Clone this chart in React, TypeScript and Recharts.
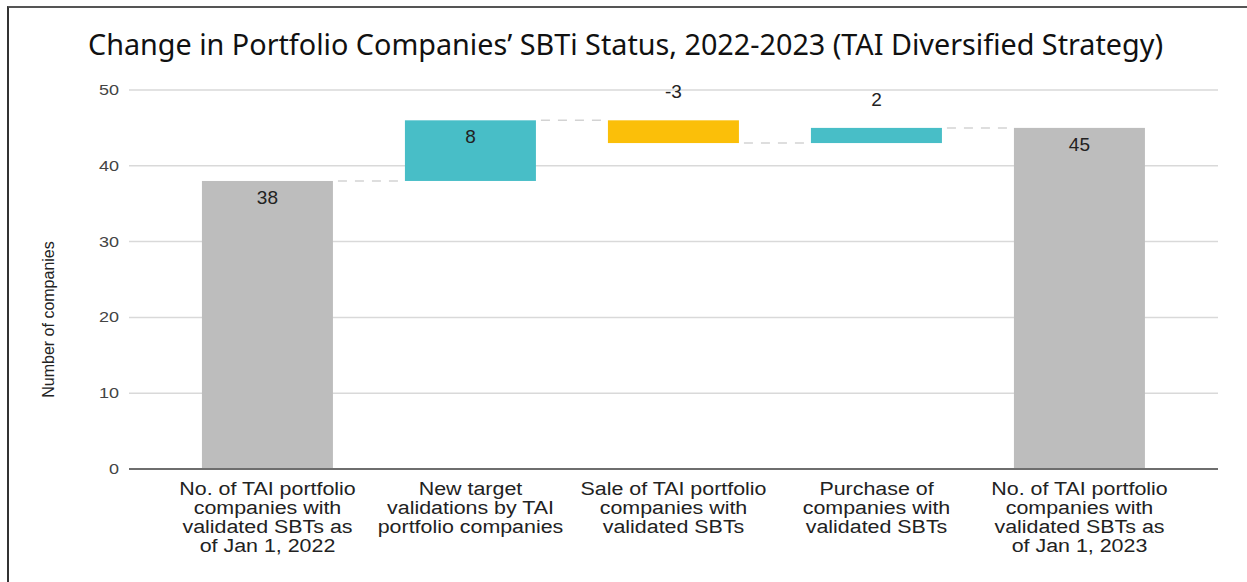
import React from 'react';
import { BarChart, Bar, XAxis, YAxis, CartesianGrid, LabelList } from 'recharts';

// categories, as printed under the axis (line breaks as in the source)
const categories = [
    'No. of TAI portfolio\ncompanies with\nvalidated SBTs as\nof Jan 1, 2022',
    'New target\nvalidations by TAI\nportfolio companies',
    'Sale of TAI portfolio\ncompanies with\nvalidated SBTs',
    'Purchase of\ncompanies with\nvalidated SBTs',
    'No. of TAI portfolio\ncompanies with\nvalidated SBTs as\nof Jan 1, 2023',
];
const changes = [38, 8, -3, 2, 45];
const isTotal = [true, false, false, false, true];
const yTicks = [0, 10, 20, 30, 40, 50];

const TITLE = 'Change in Portfolio Companies\u2019 SBTi Status, 2022-2023 (TAI Diversified Strategy)';
const Y_TITLE = 'Number of companies';

const COLOR_TOTAL = '#bdbdbd';
const COLOR_UP = '#48bec7';
const COLOR_DOWN = '#fbbf09';
const GAP = 0.177; // barCategoryGap, applied on both sides of a bar
const FONT = '"Liberation Sans", Arial, sans-serif';

// build floating [low, high] ranges from the running total
let running = 0;
const data = categories.map((name, i) => {
    const v = changes[i];
    let low: number, high: number;
    if (isTotal[i]) {
        low = 0;
        high = v;
        running = v;
    } else {
        const start = running;
        running = start + v;
        low = Math.min(start, running);
        high = Math.max(start, running);
    }
    return {
        name,
        range: [low, high],
        change: v,
        fill: isTotal[i] ? COLOR_TOTAL : v >= 0 ? COLOR_UP : COLOR_DOWN,
        endsLow: !isTotal[i] && v < 0,
    };
});

const WaterfallBar = (props: any) => {
    const { x, y, width, height, payload, index } = props;
    const band = width / (1 - 2 * GAP);
    const levelY = payload.endsLow ? y + height : y;
    const last = index === data.length - 1;
    return (
        <g>
            {!last && (
                <line
                    x1={x + width + 5}
                    x2={x + band - 1}
                    y1={levelY}
                    y2={levelY}
                    stroke="#d3d3d3"
                    strokeWidth={1.5}
                    strokeDasharray="9 8"
                />
            )}
            <rect x={x} y={y} width={width} height={height} fill={payload.fill} />
        </g>
    );
};

const ValueLabel = (props: any) => {
    const { x, y, width, height, value } = props;
    const inside = height > 40;
    const cy = inside ? y + 16.5 : y - 28.5;
    return (
        <text
            x={x + width / 2}
            y={cy}
            textAnchor="middle"
            dominantBaseline="central"
            fontSize={19}
            fontFamily={FONT}
            fill="#222"
        >
            {value}
        </text>
    );
};

const CategoryTick = ({ x, y, payload }: any) => {
    const lines = String(payload.value).split('\n');
    return (
        <g transform={`translate(${x},${y})`}>
            <text textAnchor="middle" transform="scale(1.19,1)" fontSize={18} fontFamily={FONT} fill="#222">
                {lines.map((l, i) => (
                    <tspan key={i} x={0} y={18 + i * 19}>
                        {l}
                    </tspan>
                ))}
            </text>
        </g>
    );
};

const NumberTick = ({ x, y, payload }: any) => (
    <g transform={`translate(${x},${y})`}>
        <text textAnchor="end" dominantBaseline="central" transform="scale(1.2,1)" fontSize={15} fontFamily={FONT} fill="#444">
            {payload.value}
        </text>
    </g>
);

const AxisTitle = ({ viewBox }: any) => {
    const cx = viewBox.x + 9;
    const cy = viewBox.y + viewBox.height / 2 + 40;
    return (
        <text
            x={cx}
            y={cy}
            transform={`rotate(-90, ${cx}, ${cy})`}
            textAnchor="middle"
            dominantBaseline="central"
            fontSize={16}
            fontFamily={FONT}
            fill="#222"
        >
            {Y_TITLE}
        </text>
    );
};

export default function App() {
    return (
        <div style={{ position: 'absolute', left: 0, top: 0, width: 1247, height: 582, background: '#fff', overflow: 'hidden' }}>
            <div
                style={{
                    position: 'absolute',
                    left: 7,
                    top: 6,
                    width: 1260,
                    height: 600,
                    borderLeft: '2px solid #333',
                    borderTop: '2px solid #555',
                }}
            />
            <svg width={1247} height={80} style={{ position: 'absolute', left: 0, top: 0 }}>
                <text
                    x={625.5}
                    y={55}
                    textAnchor="middle"
                    fontSize={29}
                    fontFamily='"Noto Sans", sans-serif'
                    fill="#111"
                    textLength={1075}
                    lengthAdjust="spacingAndGlyphs"
                >
                    {TITLE}
                </text>
            </svg>
            <div style={{ position: 'absolute', left: 0, top: 0 }}>
                <BarChart
                    width={1247}
                    height={582}
                    data={data}
                    margin={{ top: 90, right: 29, left: 39, bottom: 13 }}
                    barCategoryGap={`${GAP * 100}%`}
                >
                    <CartesianGrid vertical={false} stroke="#d9d9d9" strokeWidth={1.5} />
                    <XAxis
                        dataKey="name"
                        interval={0}
                        height={100}
                        tickLine={false}
                        axisLine={{ stroke: '#6e6e6e', strokeWidth: 2 }}
                        padding={{ left: 37, right: 37 }}
                        tick={<CategoryTick />}
                    />
                    <YAxis
                        width={90}
                        domain={[0, 50]}
                        ticks={yTicks}
                        axisLine={false}
                        tickLine={false}
                        tickMargin={4}
                        tick={<NumberTick />}
                        label={<AxisTitle />}
                    />
                    <Bar dataKey="range" shape={<WaterfallBar />} isAnimationActive={false}>
                        <LabelList dataKey="change" content={<ValueLabel />} />
                    </Bar>
                </BarChart>
            </div>
        </div>
    );
}
